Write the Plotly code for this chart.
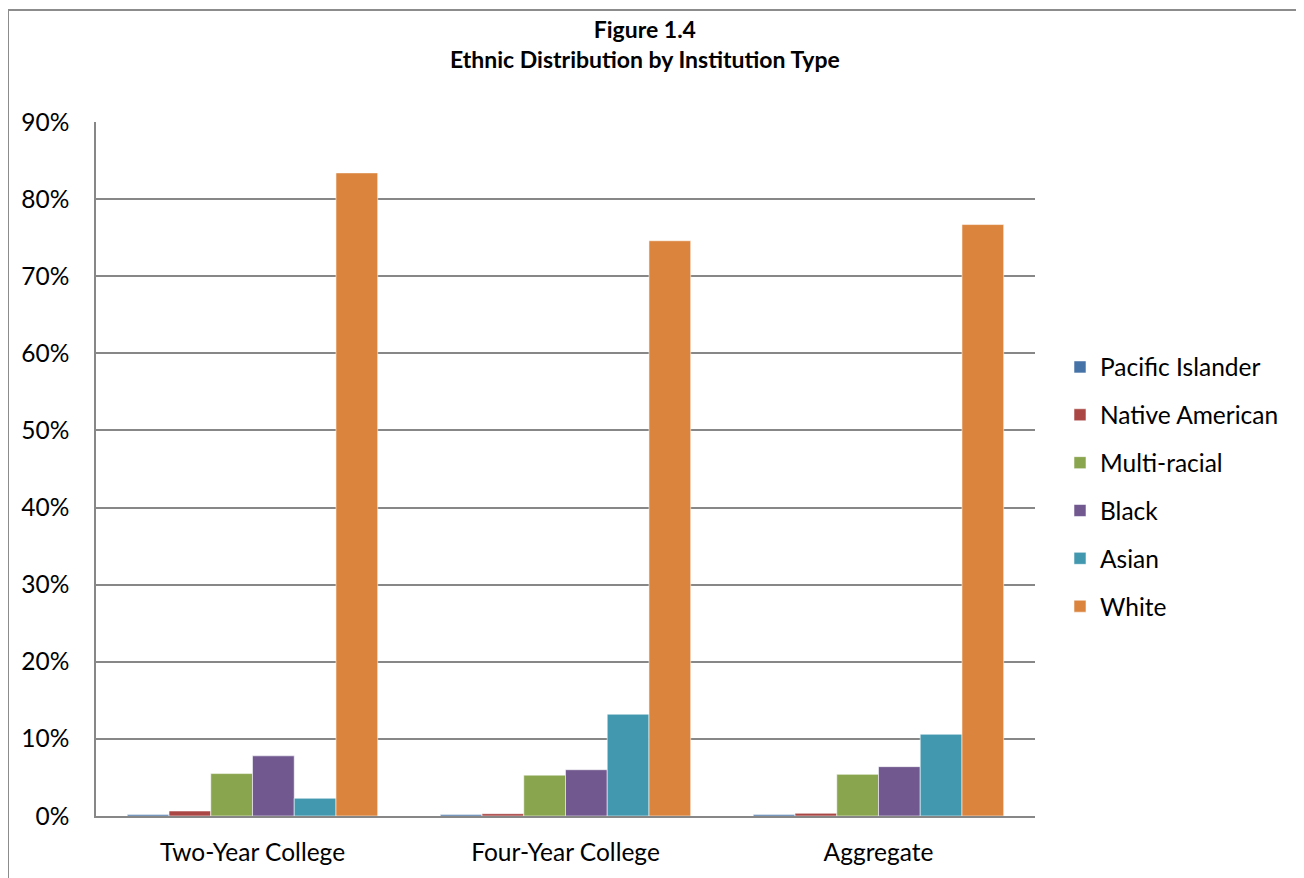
import plotly.graph_objects as go

categories = ["Two-Year College", "Four-Year College", "Aggregate"]
series_names = ["Pacific Islander", "Native American", "Multi-racial", "Black", "Asian", "White"]
pacific_islander = [0.2, 0.2, 0.2]
native_american = [0.65, 0.3, 0.35]
multi_racial = [5.5, 5.3, 5.4]
black = [7.8, 6.0, 6.4]
asian = [2.3, 13.2, 10.6]
white = [83.4, 74.6, 76.7]
colors = ["#4572A7", "#AA4643", "#89A54E", "#71588F", "#4198AF", "#DB843D"]

values = [pacific_islander, native_american, multi_racial, black, asian, white]

FONT = "Lato"
O = 8  # page body margin
W, H = 1304 - O, 878 - O
# plot area in page pixels
L, R, T, B = 96 - O, 1035 - O, 122 - O, 816 - O

fig = go.Figure()
for i, (name, vals) in enumerate(zip(series_names, values)):
    fig.add_trace(go.Bar(
        x=categories, y=vals, name=name, legendgroup=name,
        marker=dict(color=colors[i], line=dict(color="rgba(255,255,255,0.55)", width=1)),
    ))

pw = R - L
ph = B - T

def px_x(x):
    return (x - O - L) / pw

def px_y(y):
    return (B - (y - O)) / ph

fig.add_shape(type="rect", xref="paper", yref="paper",
              x0=px_x(8), x1=px_x(1303),
              y0=px_y(960), y1=px_y(10),
              line=dict(color="#8c8c8c", width=2), fillcolor="rgba(0,0,0,0)", layer="below")

fig.add_annotation(text="<b>Figure 1.4</b><br><b>Ethnic Distribution by Institution Type</b>",
                   xref="paper", yref="paper", x=px_x(645), y=px_y(44.5),
                   xanchor="center", yanchor="middle", showarrow=False,
                   font=dict(family=FONT, size=23, color="#000000"))

fig.update_layout(
    width=W, height=H,
    margin=dict(l=L, r=W - R, t=T, b=H - B, pad=0),
    paper_bgcolor="white", plot_bgcolor="white",
    barmode="group", bargap=0.2, bargroupgap=0,
    font=dict(family=FONT, size=24.5, color="#000000"),
    legend=dict(x=px_x(1060), xanchor="left", y=px_y(487), yanchor="middle",
                font=dict(family=FONT, size=24.5), tracegroupgap=13,
                bgcolor="rgba(0,0,0,0)"),
    showlegend=True,
)
fig.update_yaxes(range=[0, 90], dtick=10, ticksuffix="%", showgrid=True,
                 gridcolor="#878787", gridwidth=1.5, showline=True, linecolor="#878787",
                 linewidth=1.5, zeroline=False, ticks="", ticklabelstandoff=20)
fig.update_xaxes(showline=True, linecolor="#878787", linewidth=1.5, ticks="",
                 ticklabelstandoff=14)

fig.write_html("out.html")
